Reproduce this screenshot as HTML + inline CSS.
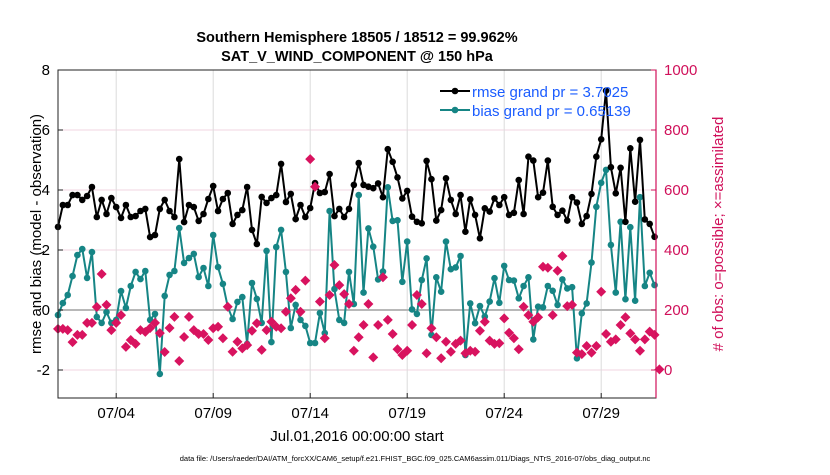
<!DOCTYPE html>
<html><head><meta charset="utf-8"><style>
body{margin:0;background:#fff;}
svg text{font-family:"Liberation Sans",sans-serif;}
</style></head><body>
<svg id="chart" width="830" height="470" xmlns="http://www.w3.org/2000/svg">
<rect width="830" height="470" fill="#fff"/>
<g id="grid"></g>
<g id="series"></g>
<g id="axes"></g>
<text x="357" y="42" text-anchor="middle" font-size="14.5" font-weight="bold">Southern Hemisphere 18505 / 18512 = 99.962%</text>
<text x="357" y="61" text-anchor="middle" font-size="14.5" font-weight="bold">SAT_V_WIND_COMPONENT @ 150 hPa</text>
<text transform="translate(41,234) rotate(-90)" text-anchor="middle" font-size="15">rmse and bias (model - observation)</text>
<text transform="translate(723,234) rotate(-90)" text-anchor="middle" font-size="15" fill="#d0105a"># of obs: o=possible; ×=assimilated</text>
<text x="357" y="441" text-anchor="middle" font-size="15">Jul.01,2016 00:00:00 start</text>
<text x="415" y="461" text-anchor="middle" font-size="7.5">data file: /Users/raeder/DAI/ATM_forcXX/CAM6_setup/f.e21.FHIST_BGC.f09_025.CAM6assim.011/Diags_NTrS_2016-07/obs_diag_output.nc</text>
<g>
<line x1="440" y1="91" x2="470" y2="91" stroke="#000" stroke-width="2"/>
<circle cx="455" cy="91" r="3.3" fill="#000"/>
<text x="472" y="97" font-size="15" fill="#1a5cff">rmse grand pr = 3.7025</text>
<line x1="440" y1="110" x2="470" y2="110" stroke="#168585" stroke-width="2"/>
<circle cx="455" cy="110" r="3.3" fill="#168585"/>
<text x="472" y="116" font-size="15" fill="#1a5cff">bias grand pr = 0.65139</text>
</g>
</svg>
<script>
const rmse=[2.77,3.5,3.5,3.83,3.83,3.67,3.8,4.1,3.1,3.67,3.2,3.73,3.43,3.07,3.5,3.1,3.13,3.3,3.37,2.43,2.5,3.37,3.67,3.3,3.1,5.03,2.93,3.5,3.43,2.97,3.2,3.7,
4.13,3.3,3.7,3.9,2.87,3.17,3.33,4.1,2.67,2.2,3.77,3.57,3.73,3.83,4.87,3.6,3.87,3.03,3.5,3.1,3.4,4.23,3.9,3.93,4.53,3.13,3.37,3.1,3.37,4.17,4.9,
4.17,4.11,4.06,4.22,3.76,5.36,4.94,4.42,3.72,3.97,3.11,2.94,2.89,4.97,4.36,2.98,3.33,4.39,3.67,3.2,3.83,2.61,3.69,3.17,2.39,3.39,3.28,3.72,3.5,3.76,3.17,
3.24,4.33,3.2,5.11,4.98,3.76,3.91,4.98,3.44,3.17,3.31,2.98,3.76,3.58,2.87,3.13,3.87,5.11,5.69,7.31,4.76,3.89,4.74,2.94,5.39,3.61,5.67,3.02,2.87,2.44];
const bias=[-0.17,0.23,0.5,1.13,1.83,2.03,1.07,1.93,-0.23,-0.43,-0.07,-0.43,-0.33,0.63,0.07,0.8,1.27,1.03,1.3,-0.33,-0.13,-2.13,0.47,1.17,1.3,2.73,1.57,1.73,1.87,1.1,1.4,0.8,
2.5,1.43,0.87,0.1,-0.3,0.27,0.43,-1.13,0.9,0.37,-0.43,1.97,-1.07,2.1,2.67,1.27,-0.6,0.17,-0.33,-0.53,-1.1,-1.1,-0.1,-0.77,3.3,0.7,-0.33,-0.43,1.27,0.2,3.83,
0.58,2.72,2.11,1.02,1.28,4.09,2.97,2.99,0.94,2.28,0.02,-0.13,1.0,1.72,-0.83,1.09,0.61,2.28,1.36,1.42,1.8,-1.5,0.22,-0.44,0.13,-0.22,0.28,1.06,0.24,1.47,1.0,
0.98,0.39,0.8,1.09,-0.98,0.11,0.09,0.8,0.64,0.17,1.02,0.72,0.76,-1.61,-0.11,0.22,1.58,3.44,4.24,4.67,2.17,0.58,2.94,0.36,2.76,0.31,3.76,0.8,1.24,0.83];
const nobs=[137,137,133,93,117,117,157,157,210,320,217,133,157,183,77,100,87,133,127,140,157,123,60,140,177,30,110,177,133,120,120,100,
139,144,106,211,61,94,72,83,131,156,67,133,161,144,139,194,239,267,194,298,703,611,228,106,250,350,283,253,220,64,109,
150,220,42,150,309,167,120,69,50,64,150,250,220,56,139,109,39,94,61,87,98,56,64,61,131,161,98,87,89,172,124,
106,69,211,183,161,176,344,341,183,331,380,213,217,58,53,80,58,80,261,120,94,102,150,176,122,102,64,102,128,117,2];
const yTicks=[-2,0,2,4,6,8];
const rTicks=[0,200,400,600,800,1000];
const xTickDays=[3,8,13,18,23,28];
const xTickLabels=["07/04","07/09","07/14","07/19","07/24","07/29"];

const NS="http://www.w3.org/2000/svg";
const L=58,R=656,T=70,B=398;
const xDay=d=>L+d*19.4;
const xIdx=i=>xDay(i*0.25);
const yL=v=>310-v*30;
const yR=c=>370-c*0.3;
function mk(tag,attrs,parent){const e=document.createElementNS(NS,tag);for(const k in attrs)e.setAttribute(k,attrs[k]);parent.appendChild(e);return e;}
const grid=document.getElementById('grid'),ser=document.getElementById('series'),axes=document.getElementById('axes');

yTicks.forEach(v=>{if(v===0)return;const g=mk('line',{x1:L,x2:R,y1:yL(v),y2:yL(v),stroke:'#f2d6e0','stroke-width':1},grid);

});
xTickDays.forEach(d=>{const g=mk('line',{x1:xDay(d),x2:xDay(d),y1:T,y2:B,stroke:'#dcdcdc','stroke-width':1},grid);

});
const zl=mk('line',{x1:L,x2:R,y1:yL(0),y2:yL(0),stroke:'#b8b8b8','stroke-width':2},grid);



const pts=a=>a.map((v,i)=>xIdx(i).toFixed(1)+','+yL(v).toFixed(1)).join(' ');
const lb=mk('polyline',{points:pts(bias),fill:'none',stroke:'#168585','stroke-width':2},ser);


bias.forEach((v,i)=>{const c=mk('circle',{cx:xIdx(i),cy:yL(v),r:3.3,fill:'#168585'},ser);

});
const lr=mk('polyline',{points:pts(rmse),fill:'none',stroke:'#000','stroke-width':2},ser);


rmse.forEach((v,i)=>{const c=mk('circle',{cx:xIdx(i),cy:yL(v),r:3.3,fill:'#000'},ser);

});
nobs.forEach((c,i)=>{const x=xIdx(i),y=yR(c);
const p=mk('polygon',{points:`${x},${y-5} ${x+5},${y} ${x},${y+5} ${x-5},${y}`,fill:'#d8135f'},ser);

});

const box=mk('rect',{x:L,y:T,width:R-L,height:B-T,fill:'none',stroke:'#222','stroke-width':1},axes);


const ra=mk('line',{x1:R,x2:R,y1:T,y2:B,stroke:'#d0105a','stroke-width':1.2},axes);


yTicks.forEach(v=>{const t=mk('text',{x:L-8,y:yL(v)+5,'text-anchor':'end','font-size':15},axes);t.textContent=v;


mk('line',{x1:L,x2:L+5,y1:yL(v),y2:yL(v),stroke:'#222'},axes);});
rTicks.forEach(c=>{const t=mk('text',{x:R+8,y:yR(c)+5,'font-size':15,fill:'#d0105a'},axes);t.textContent=c;


mk('line',{x1:R-5,x2:R,y1:yR(c),y2:yR(c),stroke:'#d0105a'},axes);});
xTickDays.forEach((d,i)=>{const t=mk('text',{x:xDay(d),y:418,'text-anchor':'middle','font-size':15},axes);t.textContent=xTickLabels[i];


mk('line',{x1:xDay(d),x2:xDay(d),y1:B,y2:B-5,stroke:'#222'},axes);});
</script>
</body></html>
